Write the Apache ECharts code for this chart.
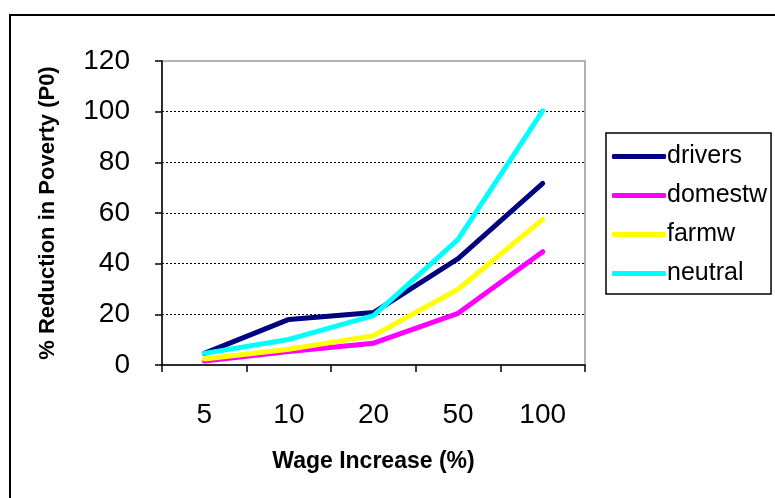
<!DOCTYPE html>
<html>
<head>
<meta charset="utf-8">
<script src="https://cdn.jsdelivr.net/npm/echarts@6/dist/echarts.min.js"></script>
<style>
html,body{margin:0;padding:0;background:#fff;}
#chart{width:775px;height:498px;}
</style>
</head>
<body>
<div id="chart"></div>
<script>
const categories = ['5', '10', '20', '50', '100'];
const drivers = [4.6, 18, 20.7, 42, 71.7];
const domestw = [1.6, 5.3, 8.6, 20.4, 44.7];
const farmw = [2.4, 6.2, 11.6, 29.9, 57.5];
const neutral = [4.6, 10.1, 19.5, 49.6, 100.3];
const seriesNames = ['drivers', 'domestw', 'farmw', 'neutral'];
const seriesColors = ['#000080', '#FF00FF', '#FFFF00', '#00FFFF'];
const seriesData = [drivers, domestw, farmw, neutral];

const FONT = 'Arial, "Liberation Sans", sans-serif';
const chart = echarts.init(document.getElementById('chart'));
chart.setOption({
  backgroundColor: '#fff',
  animation: false,
  graphic: [{
    type: 'rect', silent: true,
    shape: { x: 10, y: 15, width: 800, height: 600 },
    style: { fill: 'none', stroke: '#000', lineWidth: 2 }
  }],
  grid: {
    left: 162, right: 190, top: 61, bottom: 133,
    show: true, borderColor: '#999', borderWidth: 1.5, backgroundColor: 'transparent'
  },
  legend: {
    left: 606, top: 133,
    orient: 'vertical',
    padding: [11, 4, 8, 6],
    itemGap: 14,
    itemWidth: 54, itemHeight: 5,
    borderColor: '#000', borderWidth: 1.5,
    icon: 'roundRect',
    textStyle: { fontFamily: FONT, fontSize: 25, color: '#000', padding: [0, 0, 0, -4] },
    data: seriesNames
  },
  xAxis: {
    type: 'category',
    data: categories,
    boundaryGap: true,
    name: 'Wage Increase (%)',
    nameLocation: 'middle',
    nameGap: 85,
    nameTextStyle: { fontFamily: FONT, fontSize: 23, fontWeight: 'bold', color: '#000' },
    axisLine: { lineStyle: { color: '#000', width: 1.5 } },
    axisTick: { show: true, length: 7, inside: false, lineStyle: { color: '#000', width: 1.5 } },
    axisLabel: { fontFamily: FONT, fontSize: 28, color: '#000', margin: 36 },
    splitLine: { show: false }
  },
  yAxis: {
    type: 'value',
    min: 0, max: 120, interval: 20,
    name: '% Reduction in Poverty (P0)',
    nameLocation: 'middle',
    nameGap: 103,
    nameRotate: 90,
    nameTextStyle: { fontFamily: FONT, fontSize: 22, fontWeight: 'bold', color: '#000' },
    axisLine: { show: true, lineStyle: { color: '#000', width: 1.5 } },
    axisTick: { show: true, length: 7, inside: false, lineStyle: { color: '#000', width: 1.5 } },
    axisLabel: { fontFamily: FONT, fontSize: 28, color: '#000', margin: 32 },
    splitLine: {
      show: true,
      lineStyle: {
        color: ['transparent', '#000', '#000', '#000', '#000', '#000', 'transparent'],
        type: [2, 2], width: 1
      }
    }
  },
  series: seriesNames.map((n, i) => ({
    name: n,
    type: 'line',
    data: seriesData[i],
    symbol: 'none',
    color: seriesColors[i],
    lineStyle: { color: seriesColors[i], width: 5, cap: 'round', join: 'round' }
  }))
});
</script>
</body>
</html>
